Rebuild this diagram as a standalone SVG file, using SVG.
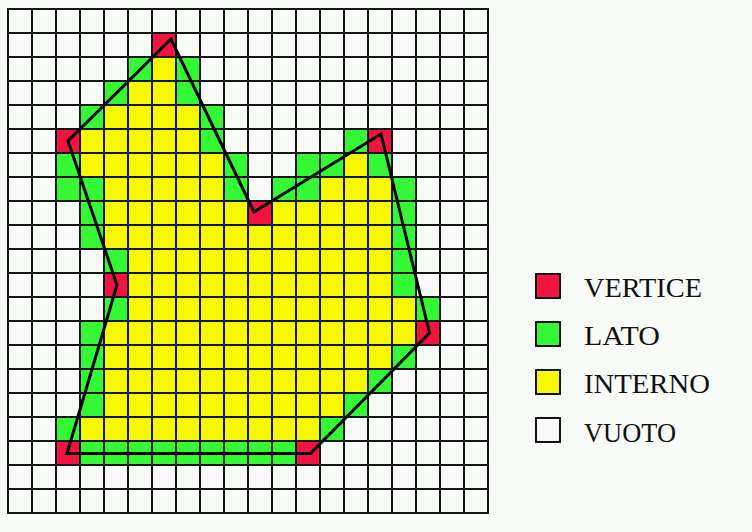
<svg xmlns="http://www.w3.org/2000/svg" width="752" height="532" viewBox="0 0 752 532">
<style>
.v{fill:#f2143f}
.g{fill:#33f833}
.y{fill:#f8f800}
.grid{fill:none;stroke:#141414;stroke-width:2}
.poly{fill:none;stroke:#000;stroke-width:3;stroke-linejoin:miter}
.key{stroke:#111;stroke-width:2}
.lbl{font-family:"Liberation Serif","Times New Roman",serif;font-size:28px;fill:#111}
</style>
<rect width="752" height="532" fill="#f8fbf8"/>
<g id="cells">
<g id="interno">
<rect class="y" x="152" y="57" width="24" height="24"/>
<rect class="y" x="128" y="81" width="48" height="24"/>
<rect class="y" x="104" y="105" width="96" height="24"/>
<rect class="y" x="80" y="129" width="120" height="24"/>
<rect class="y" x="80" y="153" width="144" height="24"/>
<rect class="y" x="344" y="153" width="24" height="24"/>
<rect class="y" x="104" y="177" width="120" height="24"/>
<rect class="y" x="320" y="177" width="72" height="24"/>
<rect class="y" x="104" y="201" width="144" height="24"/>
<rect class="y" x="272" y="201" width="120" height="24"/>
<rect class="y" x="104" y="225" width="288" height="24"/>
<rect class="y" x="128" y="249" width="264" height="24"/>
<rect class="y" x="128" y="273" width="264" height="24"/>
<rect class="y" x="128" y="297" width="288" height="24"/>
<rect class="y" x="104" y="321" width="312" height="24"/>
<rect class="y" x="104" y="345" width="288" height="24"/>
<rect class="y" x="104" y="369" width="264" height="24"/>
<rect class="y" x="104" y="393" width="240" height="24"/>
<rect class="y" x="80" y="417" width="240" height="24"/>
</g>
<g id="lato">
<rect class="g" x="128" y="57" width="24" height="24"/>
<rect class="g" x="176" y="57" width="24" height="24"/>
<rect class="g" x="104" y="81" width="24" height="24"/>
<rect class="g" x="176" y="81" width="24" height="24"/>
<rect class="g" x="80" y="105" width="24" height="24"/>
<rect class="g" x="200" y="105" width="24" height="24"/>
<rect class="g" x="200" y="129" width="24" height="24"/>
<rect class="g" x="344" y="129" width="24" height="24"/>
<rect class="g" x="56" y="153" width="24" height="24"/>
<rect class="g" x="224" y="153" width="24" height="24"/>
<rect class="g" x="296" y="153" width="48" height="24"/>
<rect class="g" x="368" y="153" width="24" height="24"/>
<rect class="g" x="56" y="177" width="48" height="24"/>
<rect class="g" x="224" y="177" width="24" height="24"/>
<rect class="g" x="272" y="177" width="48" height="24"/>
<rect class="g" x="392" y="177" width="24" height="24"/>
<rect class="g" x="80" y="201" width="24" height="24"/>
<rect class="g" x="392" y="201" width="24" height="24"/>
<rect class="g" x="80" y="225" width="24" height="24"/>
<rect class="g" x="392" y="225" width="24" height="24"/>
<rect class="g" x="104" y="249" width="24" height="24"/>
<rect class="g" x="392" y="249" width="24" height="24"/>
<rect class="g" x="392" y="273" width="24" height="24"/>
<rect class="g" x="104" y="297" width="24" height="24"/>
<rect class="g" x="416" y="297" width="24" height="24"/>
<rect class="g" x="80" y="321" width="24" height="24"/>
<rect class="g" x="80" y="345" width="24" height="24"/>
<rect class="g" x="392" y="345" width="24" height="24"/>
<rect class="g" x="80" y="369" width="24" height="24"/>
<rect class="g" x="368" y="369" width="24" height="24"/>
<rect class="g" x="80" y="393" width="24" height="24"/>
<rect class="g" x="344" y="393" width="24" height="24"/>
<rect class="g" x="56" y="417" width="24" height="24"/>
<rect class="g" x="320" y="417" width="24" height="24"/>
<rect class="g" x="80" y="441" width="216" height="24"/>
</g>
<g id="vertici">
<rect class="v" x="152" y="33" width="24" height="24"/>
<rect class="v" x="56" y="129" width="24" height="24"/>
<rect class="v" x="368" y="129" width="24" height="24"/>
<rect class="v" x="248" y="201" width="24" height="24"/>
<rect class="v" x="104" y="273" width="24" height="24"/>
<rect class="v" x="416" y="321" width="24" height="24"/>
<rect class="v" x="56" y="441" width="24" height="24"/>
<rect class="v" x="296" y="441" width="24" height="24"/>
</g>
</g>
<g id="grid">
<path class="grid" d="M8 9V513M32 9V513M56 9V513M80 9V513M104 9V513M128 9V513M152 9V513M176 9V513M200 9V513M224 9V513M248 9V513M272 9V513M296 9V513M320 9V513M344 9V513M368 9V513M392 9V513M416 9V513M440 9V513M464 9V513M488 9V513
M7 9H489M7 33H489M7 57H489M7 81H489M7 105H489M7 129H489M7 153H489M7 177H489M7 201H489M7 225H489M7 249H489M7 273H489M7 297H489M7 321H489M7 345H489M7 369H489M7 393H489M7 417H489M7 441H489M7 465H489M7 489H489M7 513H489"/>
</g>
<g id="connectors">
<polygon class="poly" points="171,39 68,141 117,285 67,453.5 310.5,453.5 429.5,333 381,134 254,212"/>
</g>
<g id="legend">
<g id="leg-vertice">
<rect class="key v" x="536" y="274" width="24" height="24"/>
<text class="lbl" x="584" y="297" textLength="118" lengthAdjust="spacingAndGlyphs">VERTICE</text>
</g>
<g id="leg-lato">
<rect class="key g" x="536" y="322" width="24" height="24"/>
<text class="lbl" x="584" y="345" textLength="76" lengthAdjust="spacingAndGlyphs">LATO</text>
</g>
<g id="leg-interno">
<rect class="key y" x="536" y="370" width="24" height="24"/>
<text class="lbl" x="584" y="393" textLength="126" lengthAdjust="spacingAndGlyphs">INTERNO</text>
</g>
<g id="leg-vuoto">
<rect class="key" fill="#f8fbf8" x="536" y="418" width="24" height="24"/>
<text class="lbl" x="584" y="442" textLength="92" lengthAdjust="spacingAndGlyphs">VUOTO</text>
</g>
</g>
</svg>
